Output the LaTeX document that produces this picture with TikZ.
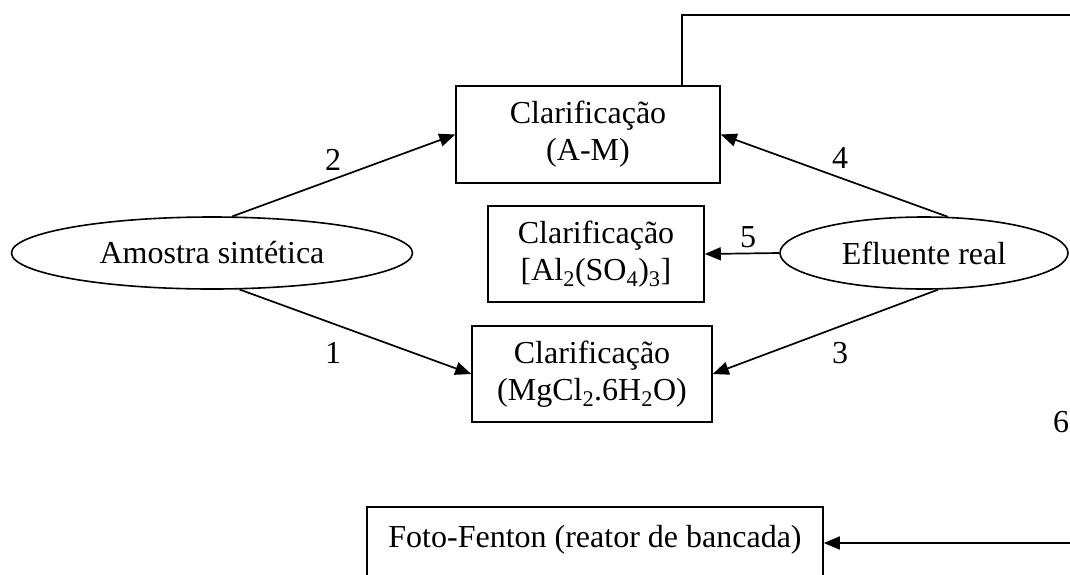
\documentclass[tikz,border=0pt]{standalone}
\usepackage{fontspec}
\setmainfont{Liberation Serif}
\usetikzlibrary{shapes.geometric,arrows.meta,calc}
\begin{document}
\begin{tikzpicture}[x=1pt,y=-1pt,
  every node/.style={font=\fontsize{32}{37}\selectfont},
  box/.style={draw,line width=1.6pt,rectangle,align=center,inner sep=0pt},
  oval/.style={draw,line width=1.6pt,ellipse,inner sep=0pt},
  conn/.style={line width=1.7pt},
  arr/.style={conn,-{Triangle[length=16pt,width=13pt]}},
  lbl/.style={inner sep=0pt}]
\useasboundingbox (0,0) rectangle (1070,574);
\fill[white] (0,0) rectangle (1070,574);
\clip (0,0) rectangle (1070,574);
% nodes
\node[box,minimum width=264pt,minimum height=97pt] (am) at (588,134.5) {Clarificação\\(A-M)};
\node[box,minimum width=216pt,minimum height=96pt] (al) at (596,254) {Clarificação\\{}[Al\textsubscript{2}(SO\textsubscript{4})\textsubscript{3}]};
\node[box,minimum width=240pt,minimum height=96pt] (mg) at (592,374) {Clarificação\\(MgCl\textsubscript{2}.6H\textsubscript{2}O)};
\node[oval,minimum width=401pt,minimum height=72pt] (amo) at (212,253) {Amostra sintética};
\node[oval,minimum width=288pt,minimum height=72pt] (efl) at (924,253) {Efluente real};
\node[box,minimum width=456pt,minimum height=96pt] (foto) at (595,555) {Foto-Fenton (reator de bancada)\\\mbox{}};
% free ends
\coordinate (tr) at (1078,15);
\coordinate (br) at (1078,543);
% connectors
\draw[arr] (amo.61) -- (am.west);
\draw[arr] (amo.-53) -- (mg.west);
\draw[arr] (efl.57) -- (am.east);
\draw[arr] (efl.-69) -- (mg.east);
\draw[arr] (efl.west) -- (al.east);
\draw[conn] ($(am.north east)+(-39,0)$) |- (tr);
\draw[arr] (br) -- (br -| foto.east);
% labels
\node[lbl] (l2) at (333,160) {2};
\node[lbl] (l4) at (840,158) {4};
\node[lbl] (l5) at (748,237) {5};
\node[lbl] (l1) at (333,353) {1};
\node[lbl] (l3) at (840,353) {3};
\node[lbl] (l6) at (1061,422) {6};
\end{tikzpicture}
\end{document}
